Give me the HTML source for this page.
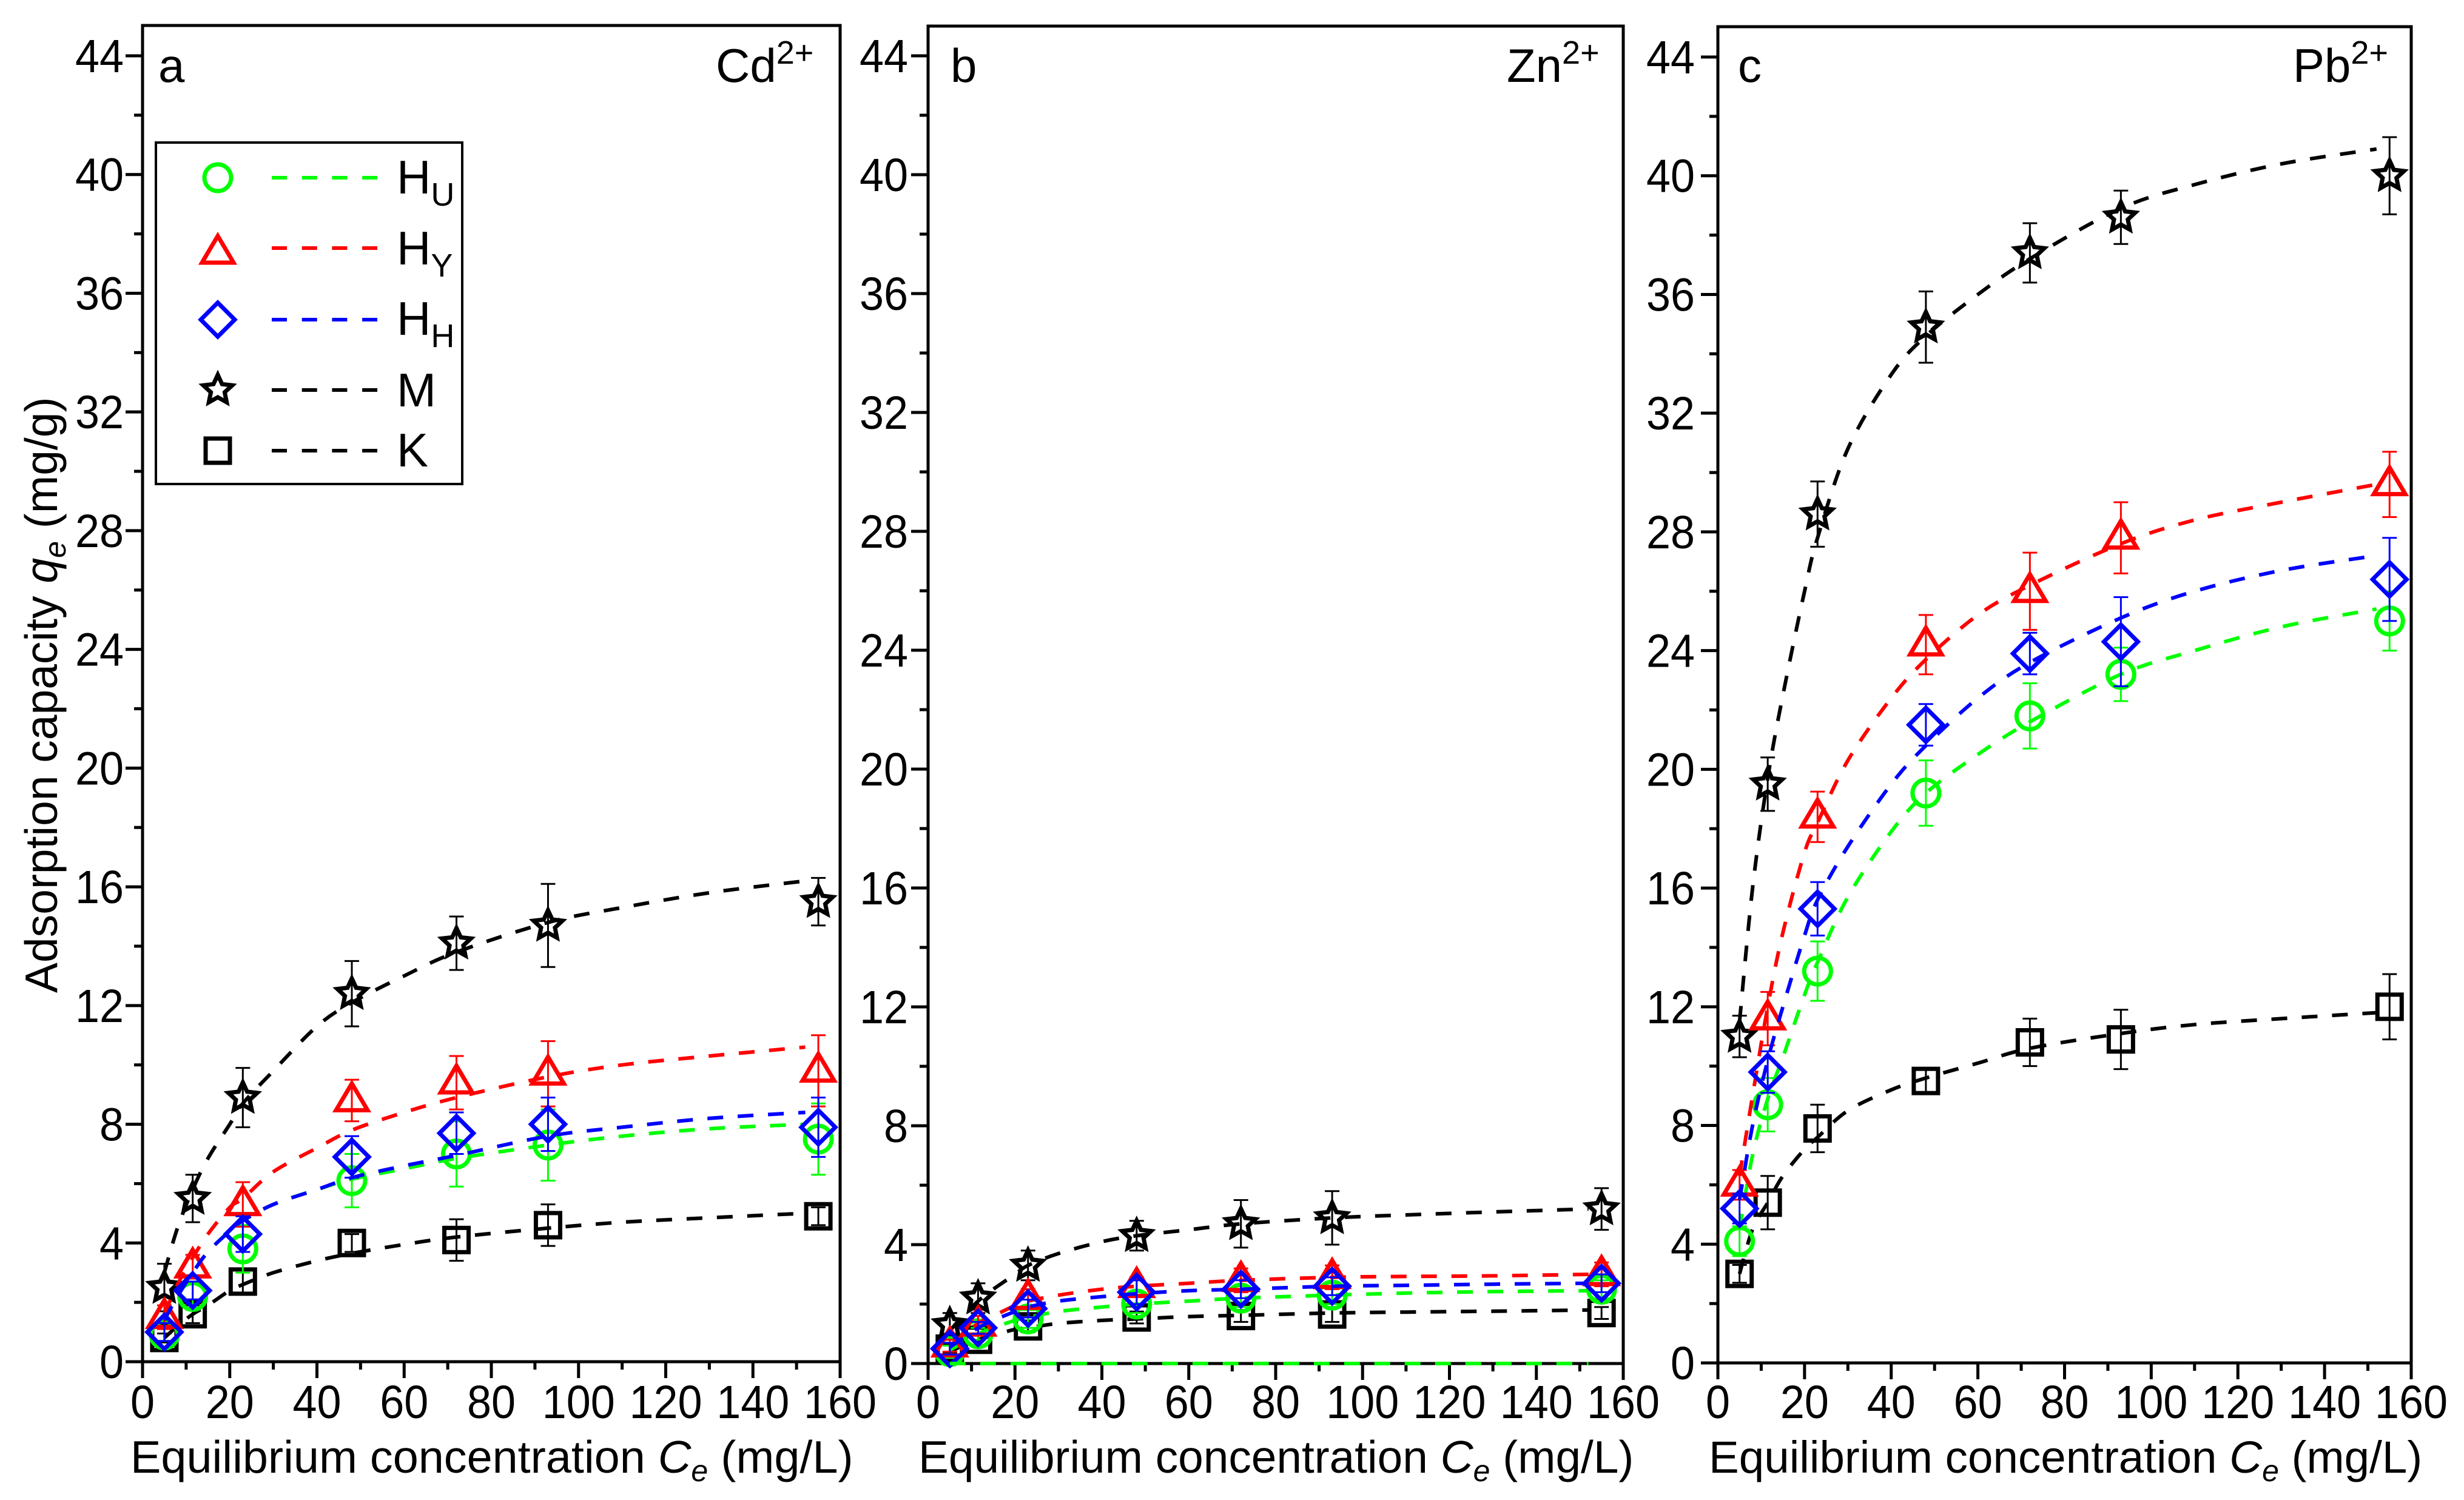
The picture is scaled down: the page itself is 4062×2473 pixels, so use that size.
<!DOCTYPE html>
<html lang="en">
<head>
<meta charset="utf-8">
<title>Adsorption isotherms</title>
<style>
html,body{margin:0;padding:0;background:#fff;}
svg{display:block;}
text{font-family:"Liberation Sans",Arial,sans-serif;fill:#000;}
</style>
</head>
<body>
<svg id="chart" xmlns="http://www.w3.org/2000/svg" width="4062" height="2473" viewBox="0 0 4062 2473">
  <rect width="4062" height="2473" fill="#fff"/>
  <g id="panel-a"></g>
  <g id="panel-b"></g>
  <g id="panel-c"></g>

  <text transform="translate(94,1637) rotate(-90)" font-size="75">Adsorption capacity <tspan font-style="italic">q</tspan><tspan font-style="italic" font-size="50" dy="14">e</tspan><tspan dy="-14"> (mg/g)</tspan></text>

  <text x="215" y="2428" font-size="75.6">Equilibrium concentration <tspan font-style="italic">C</tspan><tspan font-style="italic" font-size="50" dy="14">e</tspan><tspan dy="-14"> (mg/L)</tspan></text>
  <text x="1514" y="2428" font-size="74.8">Equilibrium concentration <tspan font-style="italic">C</tspan><tspan font-style="italic" font-size="50" dy="14">e</tspan><tspan dy="-14"> (mg/L)</tspan></text>
  <text x="2817" y="2428" font-size="74.6">Equilibrium concentration <tspan font-style="italic">C</tspan><tspan font-style="italic" font-size="50" dy="14">e</tspan><tspan dy="-14"> (mg/L)</tspan></text>

  <text x="261" y="135" font-size="78">a</text>
  <text x="1567" y="135" font-size="78">b</text>
  <text x="2865" y="135" font-size="78">c</text>

  <text x="1180" y="135" font-size="78">Cd<tspan font-size="54" dy="-30">2+</tspan></text>
  <text x="2484" y="135" font-size="78">Zn<tspan font-size="54" dy="-30">2+</tspan></text>
  <text x="3780" y="135" font-size="78">Pb<tspan font-size="54" dy="-30">2+</tspan></text>

  <g id="legend">
    <rect x="257" y="235" width="505" height="563" fill="#fff" stroke="#000" stroke-width="4"/>
    <g id="legend-keys"></g>
    <text x="654" y="319" font-size="78">H<tspan font-size="54" dy="20">U</tspan></text>
    <text x="654" y="436" font-size="78">H<tspan font-size="54" dy="20">Y</tspan></text>
    <text x="654" y="552" font-size="78">H<tspan font-size="54" dy="20">H</tspan></text>
    <text x="654" y="670" font-size="78">M</text>
    <text x="654" y="769" font-size="78">K</text>
  </g>
</svg>
<script>
// ---------- data ----------
const concentrations = [5, 11.5, 23, 48, 72, 93, 155];
const curveConcentrations = [5, 8, 11.5, 15, 20, 23, 30, 40, 48, 60, 72, 93, 110, 130, 152];
const xTickLabels = [0, 20, 40, 60, 80, 100, 120, 140, 160];
const xMinorTicks = [10, 30, 50, 70, 90, 110, 130, 150];
const yTickLabels = [0, 4, 8, 12, 16, 20, 24, 28, 32, 36, 40, 44];
const yMinorTicks = [2, 6, 10, 14, 18, 22, 26, 30, 34, 38, 42];

// Panel a (Cd2+)
const cdValuesK  = [0.8, 1.6, 2.7, 4.0, 4.1, 4.6, 4.9];
const cdErrorsK  = [0.15, 0.3, 0.4, 0.3, 0.7, 0.7, 0.3];
const cdCurveK   = [0.8, 1.2, 1.6, 1.9, 2.4, 2.6, 3.0, 3.4, 3.65, 3.95, 4.2, 4.5, 4.7, 4.85, 5.0];
const cdValuesM  = [2.5, 5.5, 8.9, 12.4, 14.1, 14.7, 15.5];
const cdErrorsM  = [0.8, 0.8, 1.0, 1.1, 0.9, 1.4, 0.8];
const cdCurveM   = [3.0, 4.5, 5.8, 6.85, 8.0, 8.7, 9.8, 11.3, 12.1, 13.0, 13.8, 14.8, 15.3, 15.8, 16.2];
const cdValuesHu = [0.9, 2.2, 3.8, 6.1, 7.0, 7.3, 7.5];
const cdErrorsHu = [0.2, 0.45, 0.8, 0.9, 1.1, 1.2, 1.2];
const cdCurveHu  = [1.4, 2.2, 3.0, 3.7, 4.4, 4.75, 5.3, 5.8, 6.15, 6.5, 6.85, 7.3, 7.6, 7.85, 8.0];
const cdValuesHy = [1.5, 3.2, 5.3, 8.8, 9.4, 9.7, 9.8];
const cdErrorsHy = [0.4, 0.4, 0.75, 0.7, 0.9, 1.1, 1.2];
const cdCurveHy  = [1.6, 2.6, 3.5, 4.3, 5.2, 5.5, 6.4, 7.2, 7.8, 8.4, 8.9, 9.6, 10.0, 10.3, 10.6];
const cdValuesHh = [1.0, 2.4, 4.3, 6.9, 7.7, 8.0, 7.9];
const cdErrorsHh = [0.3, 0.3, 0.6, 0.7, 0.7, 0.9, 1.0];
const cdCurveHh  = [1.4, 2.2, 3.0, 3.7, 4.4, 4.75, 5.3, 5.8, 6.2, 6.6, 6.95, 7.6, 7.9, 8.2, 8.4];

// Panel b (Zn2+)
const znValuesK  = [0.5, 0.8, 1.25, 1.55, 1.6, 1.65, 1.7];
const znErrorsK  = [0.15, 0.2, 0.2, 0.2, 0.2, 0.25, 0.2];
const znCurveK   = [0.4, 0.6, 0.8, 0.95, 1.15, 1.2, 1.35, 1.45, 1.5, 1.58, 1.62, 1.7, 1.73, 1.76, 1.8];
const znValuesM  = [1.3, 2.2, 3.3, 4.3, 4.7, 4.9, 5.2];
const znErrorsM  = [0.4, 0.5, 0.5, 0.5, 0.8, 0.9, 0.7];
const znCurveM   = [1.1, 1.6, 2.1, 2.5, 3.0, 3.3, 3.7, 4.1, 4.3, 4.5, 4.7, 4.9, 5.0, 5.1, 5.2];
const znValuesHu = [0.4, 1.0, 1.5, 2.0, 2.2, 2.3, 2.5];
const znErrorsHu = [0.2, 0.2, 0.3, 0.3, 0.3, 0.3, 0.3];
const znCurveHu  = [0.45, 0.7, 1.0, 1.2, 1.45, 1.55, 1.75, 1.9, 2.0, 2.1, 2.2, 2.3, 2.37, 2.42, 2.45];
const znCurveHuBaseline = [0, 0, 0, 0, 0, 0, 0, 0, 0, 0, 0, 0, 0, 0, 0];
const znValuesHy = [0.6, 1.3, 2.2, 2.6, 2.8, 2.9, 3.0];
const znErrorsHy = [0.2, 0.3, 0.3, 0.3, 0.4, 0.4, 0.4];
const znCurveHy  = [0.6, 0.95, 1.35, 1.6, 1.95, 2.1, 2.3, 2.5, 2.6, 2.7, 2.8, 2.9, 2.93, 2.95, 3.0];
const znValuesHh = [0.5, 1.2, 1.85, 2.4, 2.5, 2.6, 2.7];
const znErrorsHh = [0.2, 0.2, 0.3, 0.4, 0.3, 0.3, 0.3];
const znCurveHh  = [0.55, 0.85, 1.2, 1.45, 1.75, 1.9, 2.1, 2.25, 2.35, 2.45, 2.5, 2.6, 2.63, 2.67, 2.7];

// Panel c (Pb2+)
const pbValuesK  = [3.0, 5.4, 7.9, 9.5, 10.8, 10.9, 12.0];
const pbErrorsK  = [0.3, 0.9, 0.8, 0.4, 0.8, 1.0, 1.1];
const pbCurveK   = [3.0, 4.5, 5.4, 6.3, 7.2, 7.6, 8.5, 9.2, 9.6, 10.1, 10.6, 11.1, 11.4, 11.6, 11.8];
const pbValuesM  = [11.0, 19.5, 28.6, 34.9, 37.4, 38.6, 40.0];
const pbErrorsM  = [0.7, 0.9, 1.1, 1.2, 1.0, 0.9, 1.3];
const pbCurveM   = [11.5, 16.0, 19.7, 22.5, 26.0, 27.8, 30.8, 33.3, 34.6, 36.0, 37.2, 38.9, 39.7, 40.4, 40.9];
const pbValuesHu = [4.1, 8.7, 13.2, 19.2, 21.8, 23.2, 25.0];
const pbErrorsHu = [0.5, 0.9, 1.0, 1.1, 1.1, 0.9, 1.0];
const pbCurveHu  = [4.5, 7.0, 8.9, 10.3, 12.4, 13.5, 15.7, 17.9, 19.2, 20.5, 21.6, 23.2, 24.0, 24.8, 25.4];
const pbValuesHy = [6.0, 11.6, 18.4, 24.2, 26.0, 27.8, 29.6];
const pbErrorsHy = [0.5, 0.9, 0.85, 1.0, 1.3, 1.2, 1.1];
const pbCurveHy  = [6.3, 9.0, 12.0, 14.5, 17.2, 18.2, 20.3, 22.4, 23.7, 25.2, 26.2, 27.6, 28.4, 29.0, 29.6];
const pbValuesHh = [5.2, 9.8, 15.3, 21.5, 23.9, 24.3, 26.4];
const pbErrorsHh = [0.5, 0.7, 0.9, 0.7, 0.7, 1.5, 1.4];
const pbCurveHh  = [5.5, 8.0, 10.2, 12.0, 14.4, 15.6, 17.4, 19.5, 20.8, 22.4, 23.6, 25.1, 26.0, 26.7, 27.2];

// ---------- layout ----------
const NS = 'http://www.w3.org/2000/svg';
const GREEN = '#00ff00', RED = '#ff0000', BLUE = '#0000ff', BLACK = '#000000';

const panelGeometry = {
  a: {left: 235, right: 1385, top: 42, bottom: 2245, yAt44: 92, labelGap: 31},
  b: {left: 1530, right: 2676, top: 43, bottom: 2248, yAt44: 92, labelGap: 33},
  c: {left: 2832, right: 3975, top: 44, bottom: 2247, yAt44: 94, labelGap: 38}
};

function xScale(p, v) { return p.left + (p.right - p.left) * v / 160; }
function yScale(p, v) { return p.bottom - (p.bottom - p.yAt44) * v / 44; }

function el(tag, attrs, parent) {
  const e = document.createElementNS(NS, tag);
  for (const k in attrs) e.setAttribute(k, attrs[k]);
  parent.appendChild(e);
  return e;
}

function markerShape(kind, cx, cy, color, parent) {
  const base = {fill: 'none', stroke: color, 'stroke-width': 7, 'stroke-linejoin': 'miter', 'stroke-miterlimit': 4};
  let shape;
  if (kind === 'circle') {
    shape = el('circle', Object.assign({cx: cx, cy: cy, r: 22}, base), parent);
  } else if (kind === 'square') {
    shape = el('rect', Object.assign({x: cx - 20, y: cy - 20, width: 40, height: 40}, base), parent);
  } else if (kind === 'triangle') {
    shape = el('path', Object.assign({d: `M${cx} ${cy - 28}L${cx + 26} ${cy + 16}H${cx - 26}Z`}, base), parent);
  } else if (kind === 'diamond') {
    shape = el('path', Object.assign({d: `M${cx} ${cy - 28}L${cx + 28} ${cy}L${cx} ${cy + 28}L${cx - 28} ${cy}Z`}, base), parent);
  } else {
    let d = '';
    for (let i = 0; i < 10; i++) {
      const r = i % 2 ? 12 : 25;
      const a = -Math.PI / 2 + i * Math.PI / 5;
      d += (i ? 'L' : 'M') + (cx + r * Math.cos(a)).toFixed(1) + ' ' + (cy + r * Math.sin(a)).toFixed(1);
    }
    shape = el('path', Object.assign({d: d + 'Z'}, base), parent);
  }
  return shape;
}

function curvePath(p, xs, ys) {
  const pts = xs.map((x, i) => [xScale(p, x), yScale(p, ys[i])]);
  let d = `M${pts[0][0].toFixed(1)} ${pts[0][1].toFixed(1)}`;
  for (let i = 0; i < pts.length - 1; i++) {
    const p0 = pts[Math.max(i - 1, 0)], p1 = pts[i], p2 = pts[i + 1], p3 = pts[Math.min(i + 2, pts.length - 1)];
    const c1x = p1[0] + (p2[0] - p0[0]) / 6, c1y = p1[1] + (p2[1] - p0[1]) / 6;
    const c2x = p2[0] - (p3[0] - p1[0]) / 6, c2y = p2[1] - (p3[1] - p1[1]) / 6;
    d += `C${c1x.toFixed(1)} ${c1y.toFixed(1)} ${c2x.toFixed(1)} ${c2y.toFixed(1)} ${p2[0].toFixed(1)} ${p2[1].toFixed(1)}`;
  }
  return d;
}

function drawAxes(p, group, key) {
  const frame = el('rect', {x: p.left, y: p.top, width: p.right - p.left, height: p.bottom - p.top, fill: 'none', stroke: '#000', 'stroke-width': 5}, group);
  
  

  yTickLabels.forEach(v => {
    const y = yScale(p, v);
    const t = el('line', {x1: p.left - 28, x2: p.left, y1: y, y2: y, stroke: '#000', 'stroke-width': 5}, group);
    
    
    const lab = el('text', {x: p.left - p.labelGap, y: y + 27, 'text-anchor': 'end', 'font-size': 77, textLength: String(v).length * 40, lengthAdjust: 'spacingAndGlyphs'}, group);
    
    
    lab.textContent = v;
  });
  yMinorTicks.forEach(v => {
    const y = yScale(p, v);
    const t = el('line', {x1: p.left - 14, x2: p.left, y1: y, y2: y, stroke: '#000', 'stroke-width': 5}, group);
    
    
  });
  xTickLabels.forEach(v => {
    const x = xScale(p, v);
    const t = el('line', {x1: x, x2: x, y1: p.bottom, y2: p.bottom + 27, stroke: '#000', 'stroke-width': 5}, group);
    
    
    const lab = el('text', {x: x, y: 2338, 'text-anchor': 'middle', 'font-size': 77, textLength: String(v).length * 40, lengthAdjust: 'spacingAndGlyphs'}, group);
    
    
    lab.textContent = v;
  });
  xMinorTicks.forEach(v => {
    const x = xScale(p, v);
    const t = el('line', {x1: x, x2: x, y1: p.bottom, y2: p.bottom + 13, stroke: '#000', 'stroke-width': 5}, group);
    
    
  });
}

function drawSeries(p, group, name, kind, color, values, errors, curve) {
  const g = el('g', {}, group);
  
  

  concentrations.forEach((c, i) => {
    const x = xScale(p, c);
    const y1 = yScale(p, values[i] + errors[i]);
    const y2 = yScale(p, values[i] - errors[i]);
    const bar = el('path', {d: `M${x} ${y1}V${y2}M${x - 12} ${y1}H${x + 12}M${x - 12} ${y2}H${x + 12}`, fill: 'none', stroke: color, 'stroke-width': 3}, g);
    
    
  });
  concentrations.forEach((c, i) => {
    const m = markerShape(kind, xScale(p, c), yScale(p, values[i]), color, g);
    
    
  });
  const line = el('path', {d: curvePath(p, curveConcentrations, curve), fill: 'none', stroke: color, 'stroke-width': 6, 'stroke-dasharray': '26 24'}, g);
  
  
}

function drawPanel(key, seriesList) {
  const p = panelGeometry[key];
  const group = document.getElementById('panel-' + key);
  drawAxes(p, group, key);
  seriesList.forEach(s => drawSeries(p, group, s[0], s[1], s[2], s[3], s[4], s[5]));
}

drawPanel('a', [
  ['k', 'square', BLACK, cdValuesK, cdErrorsK, cdCurveK],
  ['m', 'star', BLACK, cdValuesM, cdErrorsM, cdCurveM],
  ['hu', 'circle', GREEN, cdValuesHu, cdErrorsHu, cdCurveHu],
  ['hy', 'triangle', RED, cdValuesHy, cdErrorsHy, cdCurveHy],
  ['hh', 'diamond', BLUE, cdValuesHh, cdErrorsHh, cdCurveHh]
]);
drawPanel('b', [
  ['k', 'square', BLACK, znValuesK, znErrorsK, znCurveK],
  ['m', 'star', BLACK, znValuesM, znErrorsM, znCurveM],
  ['hu', 'circle', GREEN, znValuesHu, znErrorsHu, znCurveHu],
  ['hy', 'triangle', RED, znValuesHy, znErrorsHy, znCurveHy],
  ['hh', 'diamond', BLUE, znValuesHh, znErrorsHh, znCurveHh]
]);
const baselineCurve = el('path', {d: curvePath(panelGeometry.b, curveConcentrations, znCurveHuBaseline), fill: 'none', stroke: GREEN, 'stroke-width': 6, 'stroke-dasharray': '26 24'}, document.getElementById('panel-b'));


drawPanel('c', [
  ['k', 'square', BLACK, pbValuesK, pbErrorsK, pbCurveK],
  ['m', 'star', BLACK, pbValuesM, pbErrorsM, pbCurveM],
  ['hu', 'circle', GREEN, pbValuesHu, pbErrorsHu, pbCurveHu],
  ['hy', 'triangle', RED, pbValuesHy, pbErrorsHy, pbCurveHy],
  ['hh', 'diamond', BLUE, pbValuesHh, pbErrorsHh, pbCurveHh]
]);

// legend keys
const legendKeys = document.getElementById('legend-keys');
[['circle', GREEN, 293, 293, 'hu'], ['triangle', RED, 417, 409, 'hy'], ['diamond', BLUE, 527, 527, 'hh'], ['star', BLACK, 643, 643, 'm'], ['square', BLACK, 743, 743, 'k']].forEach(row => {
  const m = markerShape(row[0], 359, row[2], row[1], legendKeys);
  
  
  const l = el('line', {x1: 448, x2: 622, y1: row[3], y2: row[3], stroke: row[1], 'stroke-width': 6, 'stroke-dasharray': '25 24.7'}, legendKeys);
  
  
});
</script>
</body>
</html>
